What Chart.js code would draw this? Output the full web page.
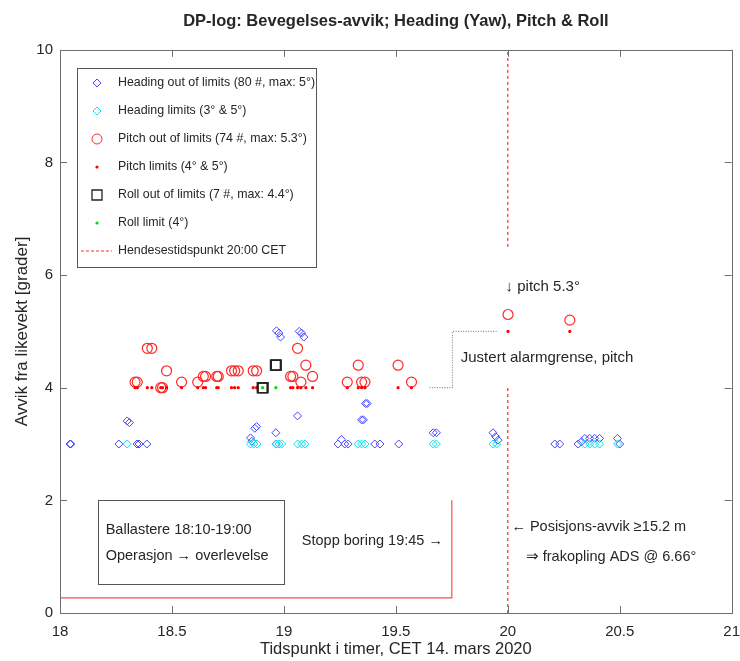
<!DOCTYPE html>
<html>
<head>
<meta charset="utf-8">
<script src="https://cdn.jsdelivr.net/npm/chart.js@4.4.0/dist/chart.umd.min.js"></script>
<style>
  html, body { margin: 0; padding: 0; background: #fff; }
</style>
</head>
<body>
<canvas id="graf" width="740" height="661"></canvas>
<script>
// Akser
const xTicks = [18, 18.5, 19, 19.5, 20, 20.5, 21];
const yTicks = [0, 2, 4, 6, 8, 10];

// Heading utenfor grense (blå)
const headingX = [18.045, 18.048, 18.263, 18.300, 18.310, 18.344, 18.353, 18.388,
  18.851, 18.857, 18.870, 18.878, 18.964, 18.966, 18.967, 18.978, 18.985,
  19.061, 19.068, 19.079, 19.089, 19.242, 19.257, 19.272, 19.287,
  19.347, 19.355, 19.365, 19.372, 19.406, 19.429, 19.513, 19.667, 19.681,
  19.934, 19.946, 19.957, 20.210, 20.232, 20.314, 20.329, 20.344, 20.366, 20.388, 20.410, 20.490, 20.500];
const headingY = [3.0, 3.0, 3.0, 3.41, 3.38, 3.0, 3.0, 3.0,
  3.11, 3.05, 3.28, 3.31, 3.2, 3.0, 5.01, 4.97, 4.90,
  3.50, 5.0, 4.97, 4.90, 3.0, 3.08, 3.0, 3.0,
  3.43, 3.43, 3.72, 3.72, 3.0, 3.0, 3.0, 3.2, 3.2,
  3.2, 3.13, 3.07, 3.0, 3.0, 3.0, 3.04, 3.1, 3.1, 3.1, 3.1, 3.1, 3.0];

// Heading grense (cyan)
const headingLimX = [18.300, 18.851, 18.866, 18.880, 18.964, 18.978, 18.990, 19.061, 19.079, 19.094,
  19.332, 19.347, 19.362, 19.667, 19.681, 19.934, 19.950, 20.344, 20.366, 20.388, 20.410, 20.490];
const headingLimY = [3, 3, 3, 3, 3, 3, 3, 3, 3, 3, 3, 3, 3, 3, 3, 3, 3, 3, 3, 3, 3, 3];

// Pitch utenfor grense (rød) + grense
const pitchX = [18.335, 18.345, 18.390, 18.410, 18.450, 18.458, 18.476, 18.543, 18.615, 18.640,
  18.650, 18.700, 18.707, 18.766, 18.780, 18.796, 18.863, 18.878, 19.030, 19.040,
  19.061, 19.076, 19.098, 19.128, 19.283, 19.332, 19.347, 19.362, 19.510, 19.570, 20.001, 20.277];
const pitchY = [4.1, 4.1, 4.7, 4.7, 4.0, 4.0, 4.3, 4.1, 4.1, 4.2,
  4.2, 4.2, 4.2, 4.3, 4.3, 4.3, 4.3, 4.3, 4.2, 4.2,
  4.7, 4.1, 4.4, 4.2, 4.1, 4.4, 4.1, 4.1, 4.4, 4.1, 5.3, 5.2];
const pitchLimY = [4, 4, 4, 4, 4, 4, 4, 4, 4, 4,
  4, 4, 4, 4, 4, 4, 4, 4, 4, 4,
  4, 4, 4, 4, 4, 4, 4, 4, 4, 4, 5, 5];

// Roll
const rollX = [18.903, 18.905, 18.907, 18.962, 18.964, 18.966, 18.905];
const rollY = [4.0, 4.0, 4.0, 4.4, 4.4, 4.4, 4.0];
const rollLimX = [18.905, 18.964];
const rollLimY = [4, 4];

// Linjer
const eventLowX = [20, 20];
const eventLowY = [0, 4];
const eventHighX = [20, 20];
const eventHighY = [6.5, 10];
const stoppX = [18, 19.75, 19.75];
const stoppY = [0.27, 0.27, 2];
const alarmX = [19.65, 19.753, 19.753, 19.95];
const alarmY = [4, 4, 5, 5];

const FONT = '"Liberation Sans", Arial, Helvetica, sans-serif';
const TXT = '#262626';
const RED = '#ff2a2a';

function pts(xs, ys) {
  return xs.map((x, i) => ({ x: x, y: ys[i] }));
}

function scatter(label, xs, ys, style, order) {
  return Object.assign({ label: label, data: pts(xs, ys), showLine: false, order: order }, style);
}

function line(xs, ys, color, dash, order) {
  return {
    data: pts(xs, ys), showLine: true, pointRadius: 0, borderColor: color, backgroundColor: color,
    borderWidth: 1.2, borderDash: dash, fill: false, order: order
  };
}

const legendItems = [
  { text: 'Heading out of limits (80 #, max: 5°)', kind: 'diamond', color: 'rgb(70,70,255)' },
  { text: 'Heading limits (3° & 5°)', kind: 'diamond', color: 'rgb(0,230,240)' },
  { text: 'Pitch out of limits (74 #, max: 5.3°)', kind: 'circle', color: RED },
  { text: 'Pitch limits (4° & 5°)', kind: 'dot', color: 'rgb(255,0,0)' },
  { text: 'Roll out of limits (7 #, max: 4.4°)', kind: 'square', color: '#222' },
  { text: 'Roll limit (4°)', kind: 'dot', color: 'rgb(0,220,0)' },
  { text: 'Hendesestidspunkt 20:00 CET', kind: 'dash', color: RED }
];

function drawMarker(ctx, kind, color, x, y) {
  ctx.save();
  ctx.strokeStyle = color;
  ctx.fillStyle = color;
  ctx.lineWidth = 1;
  ctx.beginPath();
  if (kind === 'diamond') {
    ctx.moveTo(x - 4, y); ctx.lineTo(x, y - 4); ctx.lineTo(x + 4, y); ctx.lineTo(x, y + 4); ctx.closePath();
    ctx.stroke();
  } else if (kind === 'circle') {
    ctx.arc(x, y, 5, 0, Math.PI * 2); ctx.stroke();
  } else if (kind === 'square') {
    ctx.lineWidth = 1.3;
    ctx.rect(x - 5, y - 5, 10, 10); ctx.stroke();
  } else if (kind === 'dot') {
    ctx.arc(x, y, 1.6, 0, Math.PI * 2); ctx.fill();
  } else if (kind === 'dash') {
    ctx.setLineDash([3, 2]);
    ctx.moveTo(x - 16, y); ctx.lineTo(x + 15, y); ctx.stroke();
  }
  ctx.restore();
}

// Ramme, ticks innover, tekster og legende
const pynt = {
  id: 'pynt',
  afterDatasetsDraw(chart) {
    const ctx = chart.ctx;
    const a = chart.chartArea;
    const xs = chart.scales.x, ys = chart.scales.y;
    ctx.save();

    // Ramme
    ctx.strokeStyle = '#6e6e6e';
    ctx.lineWidth = 1;
    ctx.strokeRect(Math.round(a.left) + 0.5, Math.round(a.top) + 0.5, Math.round(a.right - a.left), Math.round(a.bottom - a.top));
    ctx.beginPath();
    xTicks.forEach(v => {
      const px = Math.round(xs.getPixelForValue(v)) + 0.5;
      ctx.moveTo(px, a.bottom); ctx.lineTo(px, a.bottom - 7);
      ctx.moveTo(px, a.top); ctx.lineTo(px, a.top + 7);
    });
    yTicks.forEach(v => {
      const py = Math.round(ys.getPixelForValue(v)) + 0.5;
      ctx.moveTo(a.left, py); ctx.lineTo(a.left + 7, py);
      ctx.moveTo(a.right, py); ctx.lineTo(a.right - 7, py);
    });
    ctx.stroke();

    // Tekstboks Ballastere
    const bx1 = xs.getPixelForValue(18.168), bx2 = xs.getPixelForValue(19.0);
    const by1 = ys.getPixelForValue(2.0), by2 = ys.getPixelForValue(0.515);
    ctx.strokeStyle = '#555';
    ctx.strokeRect(Math.round(bx1) + 0.5, Math.round(by1) + 0.5, Math.round(bx2 - bx1), Math.round(by2 - by1));

    // Tekster
    const notes = [
      { t: '↓ pitch 5.3°', x: 19.99, y: 5.79, size: 15 },
      { t: 'Justert alarmgrense, pitch', x: 19.79, y: 4.53, size: 15 },
      { t: 'Ballastere 18:10-19:00', x: 18.204, y: 1.47, size: 14.5 },
      { t: 'Operasjon → overlevelse', x: 18.204, y: 1.01, size: 14.5 },
      { t: 'Stopp boring 19:45 →', x: 19.08, y: 1.27, size: 14.5 },
      { t: '← Posisjons-avvik ≥15.2 m', x: 20.016, y: 1.53, size: 14.5 },
      { t: '⇒ frakopling ADS @ 6.66°', x: 20.08, y: 1.0, size: 14.5 }
    ];
    ctx.fillStyle = TXT;
    ctx.textBaseline = 'middle';
    ctx.textAlign = 'left';
    notes.forEach(n => {
      ctx.font = n.size + 'px ' + FONT;
      ctx.fillText(n.t, xs.getPixelForValue(n.x), ys.getPixelForValue(n.y));
    });

    // Legende
    const lx = 77, ly = 68, lw = 239, lh = 199;
    ctx.fillStyle = '#fff';
    ctx.fillRect(lx, ly, lw, lh);
    ctx.strokeStyle = '#555';
    ctx.strokeRect(lx + 0.5, ly + 0.5, lw, lh);
    ctx.font = '12.4px ' + FONT;
    legendItems.forEach((it, i) => {
      const yy = 83 + i * 28;
      drawMarker(ctx, it.kind, it.color, 97, yy);
      ctx.fillStyle = TXT;
      ctx.fillText(it.text, 118, yy);
    });
    ctx.restore();
  }
};

Chart.defaults.font.family = FONT;
Chart.defaults.color = TXT;

new Chart(document.getElementById('graf'), {
  type: 'scatter',
  data: {
    datasets: [
      scatter('Heading out of limits', headingX, headingY,
        { pointStyle: 'rectRot', pointRadius: 4, borderColor: 'rgb(70,70,255)', backgroundColor: 'transparent', borderWidth: 1 }, 6),
      scatter('Heading limits', headingLimX, headingLimY,
        { pointStyle: 'rectRot', pointRadius: 4, borderColor: 'rgb(0,230,240)', backgroundColor: 'transparent', borderWidth: 1 }, 5),
      scatter('Pitch out of limits', pitchX, pitchY,
        { pointStyle: 'circle', pointRadius: 5, borderColor: RED, backgroundColor: 'transparent', borderWidth: 1.2 }, 4),
      scatter('Pitch limits', pitchX, pitchLimY,
        { pointStyle: 'circle', pointRadius: 1.6, borderColor: 'rgb(255,0,0)', backgroundColor: 'rgb(255,0,0)', borderWidth: 0 }, 3),
      scatter('Roll out of limits', rollX, rollY,
        { pointStyle: 'rect', pointRadius: 7, borderColor: '#222', backgroundColor: 'transparent', borderWidth: 1.3 }, 2),
      scatter('Roll limit', rollLimX, rollLimY,
        { pointStyle: 'circle', pointRadius: 1.6, borderColor: 'rgb(0,220,0)', backgroundColor: 'rgb(0,220,0)', borderWidth: 0 }, 1),
      line(eventLowX, eventLowY, RED, [3, 3], 10),
      line(eventHighX, eventHighY, RED, [3, 3], 10),
      line(stoppX, stoppY, '#ff4a4a', [], 11),
      line(alarmX, alarmY, '#8a8a8a', [1, 1.5], 12)
    ]
  },
  options: {
    responsive: false,
    animation: false,
    layout: { padding: { left: 0, right: 8, top: 0, bottom: 0 } },
    plugins: {
      legend: { display: false },
      tooltip: { enabled: false },
      title: {
        display: true,
        fullSize: false,
        text: 'DP-log: Bevegelses-avvik; Heading (Yaw), Pitch & Roll',
        color: TXT,
        font: { size: 16.5, weight: 'bold', family: FONT },
        lineHeight: 1.2,
        padding: { top: 12, bottom: 18 }
      }
    },
    scales: {
      x: {
        type: 'linear', min: 18, max: 21,
        afterBuildTicks: s => { s.ticks = xTicks.map(v => ({ value: v })); },
        afterFit: s => { s.height = 48; s.paddingLeft = 0; s.paddingRight = 0; },
        grid: { display: false, drawTicks: false },
        border: { display: false },
        ticks: { font: { size: 15 }, color: TXT, padding: 10, maxRotation: 0, callback: v => String(v) },
        title: { display: true, text: 'Tidspunkt i timer, CET 14. mars 2020', font: { size: 16.5 }, color: TXT, padding: { top: 0, bottom: 2 } }
      },
      y: {
        type: 'linear', min: 0, max: 10,
        afterBuildTicks: s => { s.ticks = yTicks.map(v => ({ value: v })); },
        afterFit: s => { s.width = 60; s.paddingTop = 0; s.paddingBottom = 0; },
        grid: { display: false, drawTicks: false },
        border: { display: false },
        ticks: { font: { size: 15 }, color: TXT, padding: 7, callback: v => String(v) },
        title: { display: true, text: 'Avvik fra likevekt [grader]', font: { size: 17 }, color: TXT, padding: { top: 12, bottom: 0 } }
      }
    }
  },
  plugins: [pynt]
});
</script>
</body>
</html>
